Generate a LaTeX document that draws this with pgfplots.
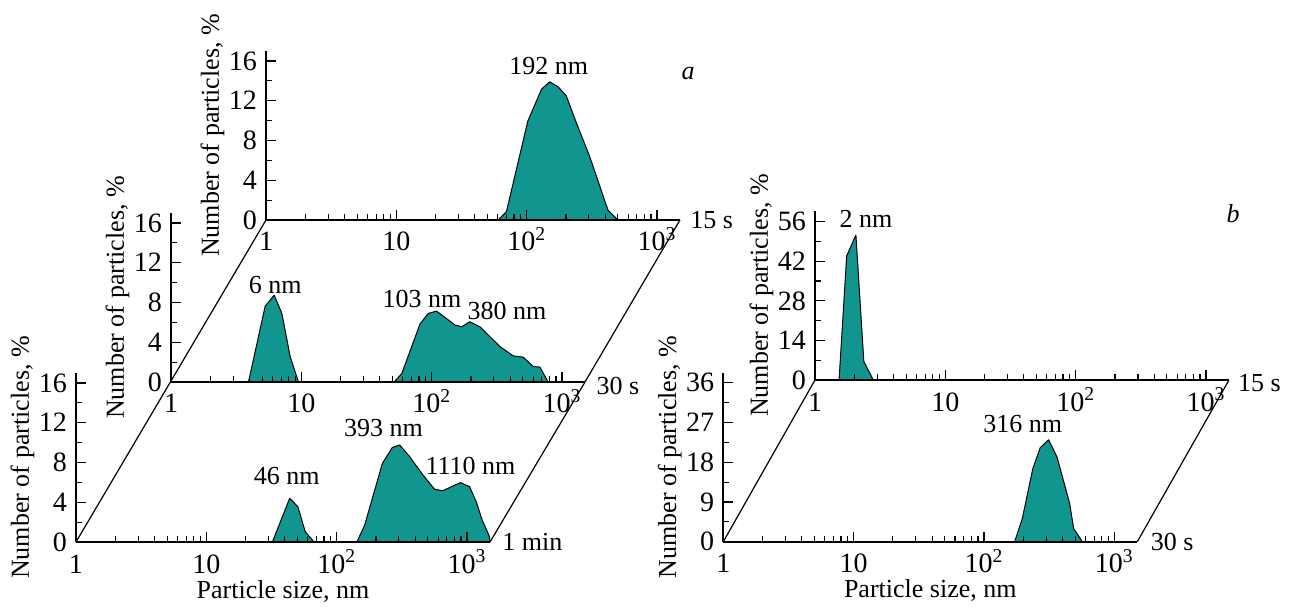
\documentclass[border=0pt]{standalone}
\usepackage{fontspec}
\setmainfont{Liberation Serif}
\usepackage{pgfplots}
\pgfplotsset{compat=1.18}
\definecolor{tealfill}{RGB}{17,150,143}

% one distribution panel: log size axis, ticks inside, only left/bottom lines
\pgfplotsset{
  psdpanel/.style={
    scale only axis, width=207pt, height=84.5pt,
    xmin=1, xmax=1500, ymin=0,
    axis x line*=bottom, axis y line*=left,
    axis line style={-, line width=1.1pt},
    tick align=inside,
    major tick length=5pt, minor tick length=3pt,
    tick style={line width=0.6pt, black},
    xtick={1,10,100,1000},
    xticklabels={1,10,10\textsuperscript{2},10\textsuperscript{3}},
    minor y tick num=1,
    tick label style={font=\fontsize{14}{16}\selectfont},
    yticklabel style={/pgf/number format/assume math mode=true},
    xticklabel style={anchor=base, yshift=-15.5pt},
    ylabel={Number of particles, \%},
    ylabel style={at={(axis description cs:-0.1292,0.5)}, anchor=center},
    xlabel style={at={(axis description cs:0.5,-0.3314)}, anchor=base},
    axis on top, clip=false,
  },
  psdfill/.style={fill=tealfill, draw=black, line width=0.5pt, line join=round},
}

\begin{document}
\fontsize{13}{15}\selectfont
\begin{tikzpicture}
\useasboundingbox (0,0) rectangle (645.5pt,303pt);

% ---- panel a ----
\begin{semilogxaxis}[psdpanel, name=a1, at={(38pt,32pt)}, anchor=south west,
  ymax=17, ytick={0,4,...,16}, xlabel={Particle size, nm}]
\addplot[psdfill] coordinates {(32.1,0)(43.6,4.4)(50.4,3.55)(57.3,1.05)(67,0)} \closedcycle;
\addplot[psdfill] coordinates {(143,0)(164,1.71)(224,7.9)(267,9.5)(304,9.76)(362,8.6)(459,6.74)(564,5.3)(653,5.16)(779,5.63)(891,5.97)(1045,5.57)(1177,4.05)(1307,2.2)(1487,0.53)(1500,0)} \closedcycle;
\node at (axis cs:41.4,6.6) {46 nm};
\node at (axis cs:229,11.5) {393 nm};
\node at (axis cs:1064,7.6) {1110 nm};
\node[anchor=west] at (axis description cs:1.008,0) {1 min};
\end{semilogxaxis}

\begin{semilogxaxis}[psdpanel, name=a2, at={(85.5pt,112pt)}, anchor=south west,
  ymax=17, ytick={0,4,...,16}]
\addplot[psdfill] coordinates {(3.93,0)(5.28,7.63)(6.19,8.73)(7.09,6.9)(8.21,2.56)(9.5,0)} \closedcycle;
\addplot[psdfill] coordinates {(51.4,0)(58.9,0.83)(81.3,5.83)(94.2,6.9)(109,7.13)(151,5.73)(170,5.56)(196,6.06)(234,5.56)(334,3.56)(422,2.63)(503,2.5)(601,1.56)(676,1.5)(782,0)} \closedcycle;
\node at (axis cs:6.3,9.8) {6 nm};
\node at (axis cs:84.3,8.4) {103 nm};
\node at (axis cs:378,7.1) {380 nm};
\node[anchor=west] at (axis description cs:1.006,-0.024) {30 s};
\end{semilogxaxis}

\begin{semilogxaxis}[psdpanel, name=a3, at={(133pt,193pt)}, anchor=south west,
  ymax=17, ytick={0,4,...,16}]
\addplot[psdfill] coordinates {(60.3,0)(69.9,0.84)(102,9.95)(130,13.16)(150,13.9)(174,13.4)(201,12.5)(240,9.8)(304,6.4)(420,1.0)(501,0)} \closedcycle;
\node at (axis cs:147.5,15.5) {192 nm};
\node[anchor=west] at (axis description cs:1.003,0) {15 s};
\end{semilogxaxis}

\draw[line width=0.6pt] (a1.south west) -- (a3.south west);
\draw[line width=0.6pt] (a1.south east) -- (a2.south east) -- (a3.south east);
\node at (344pt,266pt) {\textit{a}};

% ---- panel b ----
\begin{semilogxaxis}[psdpanel, name=b1, at={(361.65pt,32.15pt)}, anchor=south west,
  ymax=38.3, ytick={0,9,...,36}, xlabel={Particle size, nm}]
\addplot[psdfill] coordinates {(172,0)(197,5.3)(237,16.6)(270,21.3)(313,23.1)(363,19.2)(454,8.7)(487,3.0)(568,0)} \closedcycle;
\node at (axis cs:198,26.6) {316 nm};
\node[anchor=west] at (axis description cs:1.011,0) {30 s};
\end{semilogxaxis}

\begin{semilogxaxis}[psdpanel, name=b2, at={(407.5pt,113pt)}, anchor=south west,
  ymax=59.8, ytick={0,14,...,56}]
\addplot[psdfill] coordinates {(1.53,0)(1.75,43.9)(2.06,51.3)(2.37,6.5)(2.80,0)} \closedcycle;
\node at (axis cs:2.46,57) {2 nm};
\node[anchor=west] at (axis description cs:1.0,-0.018) {15 s};
\end{semilogxaxis}

\draw[line width=0.6pt] (b1.south west) -- (b2.south west);
\draw[line width=0.6pt] (b1.south east) -- (b2.south east);
\node at (616.5pt,196pt) {\textit{b}};
\end{tikzpicture}
\end{document}
